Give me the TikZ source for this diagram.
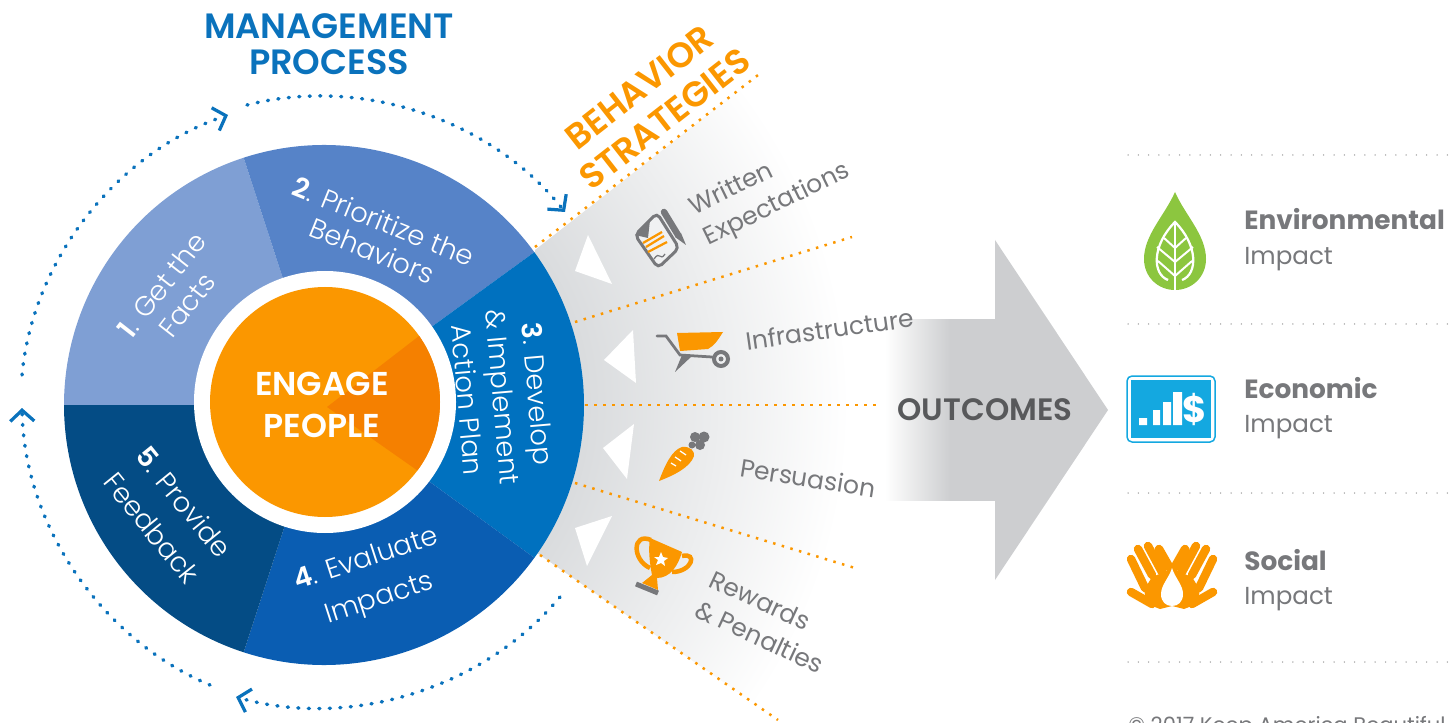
\documentclass[tikz,border=0pt]{standalone}
\usepackage{fontspec}
\setmainfont{Poppins}
\newfontfamily\lightfam{Poppins Light}
\newfontfamily\semifam{Poppins SemiBold}
\usetikzlibrary{arrows.meta}
\definecolor{factsblue}{HTML}{7F9FD4}
\definecolor{prioblue}{HTML}{5683C8}
\definecolor{planblue}{HTML}{0071BF}
\definecolor{evalblue}{HTML}{0A5DB2}
\definecolor{feedblue}{HTML}{044C85}
\definecolor{flowblue}{HTML}{0A72BC}
\definecolor{engorange}{HTML}{FB9700}
\definecolor{wedgeorange}{HTML}{F58000}
\definecolor{fangrey}{HTML}{DADCDE}
\definecolor{arrowgrey}{HTML}{CDCED0}
\definecolor{labelgrey}{HTML}{77787B}
\definecolor{darkgrey}{HTML}{58595B}
\definecolor{leafgreen}{HTML}{8CC63F}
\definecolor{moneyblue}{HTML}{14A8E0}
\pgfdeclareradialshading{fanshade}{\pgfpointorigin}{color(0bp)=(fangrey); color(12.5bp)=(fangrey); color(25bp)=(white); color(50bp)=(white)}
\pgfdeclarehorizontalshading{shaftshade}{100bp}{color(0bp)=(white); color(25bp)=(white); color(54.5bp)=(arrowgrey); color(75bp)=(arrowgrey); color(100bp)=(arrowgrey)}
\tikzset{
  wheeltext/.style={text=white,align=center,inner sep=0pt,font=\fontsize{15.6}{#1}\lightfam},
  fantext/.style={text=labelgrey,align=left,inner sep=0pt,font=\fontsize{14.2}{19}\selectfont},
  headtext/.style={font=\fontsize{20}{#1}\semifam,align=center,inner sep=0pt},
  impacttext/.style={text=labelgrey,anchor=base west,inner sep=0pt,font=\fontsize{14}{14}\selectfont},
  impacthead/.style={impacttext,font=\fontsize{15}{15}\selectfont\bfseries},
  ray/.style={draw=engorange,line width=.5mm,dash pattern=on .5mm off 1.3mm},
  flow/.style={draw=flowblue,line width=.7mm,line cap=round,dash pattern=on .2mm off 1.9mm,
    ->,>={Straight Barb[length=2.2mm,width=4.8mm,line width=.65mm]}},
  rule/.style={draw=gray!80,line width=.3mm,line cap=round,dash pattern=on 0mm off 2.06mm},
  notch/.style={fill=white,draw=none}
}
\begin{document}
\begin{tikzpicture}[x=.2mm,y=-.2mm]
\useasboundingbox (0,0) rectangle (1451,723);

\coordinate (wheelc) at (324,405);
\coordinate (ray1a) at (535,247);
\coordinate (ray1b) at (762,72);
\coordinate (ray2a) at (575,322);
\coordinate (ray2b) at (852,237);
\coordinate (ray3a) at (585,405);
\coordinate (ray3b) at (880,405);
\coordinate (ray4a) at (575,483);
\coordinate (ray4b) at (855,568);
\coordinate (ray5a) at (540,555);
\coordinate (ray5b) at (778,720);
\coordinate (flow1a) at (22,375);
\coordinate (flow1b) at (228,115);
\coordinate (flow2a) at (247,105);
\coordinate (flow2b) at (565,212);
\coordinate (flow3a) at (560,597);
\coordinate (flow3b) at (236,697);
\coordinate (flow4a) at (210,685);
\coordinate (flow4b) at (22,408);

\begin{scope}
\clip (535,250) -- (ray1b) -- (1000,72) -- (1000,720) -- (ray5b) -- (537,553) -- cycle;
\shade[shading=fanshade] (wheelc) circle (525);
\end{scope}
\fill[notch] (588,235) -- (575,271) -- (612,284) -- cycle;
\fill[notch] (633,330) -- (604,360) -- (636,383) -- cycle;
\fill[notch] (634,424) -- (603,448) -- (627,479) -- cycle;
\fill[notch] (612,516) -- (575,528) -- (587,566) -- cycle;

\shade[shading=shaftshade] (885,320) rectangle (996,500);
\fill[arrowgrey] (995,240) -- (1108,410) -- (995,580) -- cycle;

\foreach \a/\c in {-180/factsblue,-108/prioblue,-36/planblue,36/evalblue,108/feedblue}
  \fill[\c] (wheelc) -- ++(\a:260) arc[start angle=\a,delta angle=72,radius=260] -- cycle;
\fill[white] (325,402) circle (131);
\fill[engorange] (325,402) circle (115);
\begin{scope}
\clip (325,402) circle (115);
\fill[wedgeorange] (327,407) -- (458,306) -- (458,499) -- cycle;
\end{scope}

\draw[ray] (ray1a) -- (ray1b);
\draw[ray] (ray2a) -- (ray2b);
\draw[ray] (ray3a) -- (ray3b);
\draw[ray] (ray4a) -- (ray4b);
\draw[ray] (ray5a) -- (ray5b);

\draw[flow] (flow1a) to[bend left=33,looseness=.9] (flow1b);
\draw[flow] (flow2a) to[bend left=33,looseness=.9] (flow2b);
\draw[flow] (flow3a) to[bend left=33,looseness=.9] (flow3b);
\draw[flow] (flow4a) to[bend left=33,looseness=.9] (flow4b);

\node[headtext=20.5,text=flowblue] (mgmt) at (329,44) {MANAGEMENT\\PROCESS};
\node[headtext=23,text=engorange,rotate=38] (strat) at (652,103) {BEHAVIOR\\STRATEGIES};
\node[headtext=24,text=white,font=\fontsize{18.8}{24}\semifam] (engage) at (322,405) {ENGAGE\\PEOPLE};
\node[headtext=18,text=darkgrey,font=\fontsize{17.6}{18}\semifam] (outcomes) at (985,410) {OUTCOMES};

\node[wheeltext=18,rotate=52] (facts) at (174,295) {\textbf{1}. Get the\\Facts};
\node[wheeltext=18,rotate=-22] (prio) at (378,236) {\textbf{2}. Prioritize the\\Behaviors};
\node[wheeltext=20,rotate=-85] (plan) at (503,397) {\textbf{3}. Develop\\\& Implement\\Action Plan};
\node[wheeltext=23.5,rotate=18] (eval) at (373,580) {\textbf{4}. Evaluate\\Impacts};
\node[wheeltext=23.5,rotate=-51] (feed) at (168,515) {\textbf{5}. Provide\\Feedback};

\node[fantext,rotate=26] (written) at (770,190) {Written\\Expectations};
\node[fantext,rotate=8] (infra) at (830,329) {Infrastructure};
\node[fantext,rotate=-9] (persu) at (808,478) {Persuasion};
\node[fantext,rotate=-25] (reward) at (767,622) {Rewards\\\& Penalties};

\draw[labelgrey,line width=.6mm,rounded corners=1mm,fill=fangrey!40] (635,235) -- (657,213) -- (679,248) -- (658,268) -- cycle;
\fill[labelgrey] (635,235) -- (650,220) -- (648,238) -- cycle;
\draw[engorange,line width=.45mm] (643,243) -- (662,232) (646,247) -- (664,236) (648,252) -- (667,242);
\draw[labelgrey,line width=.25mm] (654,259) .. controls (660,250) and (660,262) .. (665,254);
\draw[labelgrey,line width=1.3mm,line cap=round] (664,212) -- (678,235);
\fill[labelgrey] (675,237) -- (681,233) -- (686,245) -- cycle;

\fill[engorange] (677,333) -- (723,332) .. controls (718,340) and (714,346) .. (708,349) -- (680,351) -- cycle;
\draw[labelgrey,line width=.55mm,line cap=round] (657,336) -- (666,336) -- (680,355) -- (712,357);
\fill[labelgrey] (682,355) -- (675,372) -- (692,356) -- cycle;
\draw[labelgrey,line width=.8mm] (721,359) circle (7);
\fill[labelgrey] (721,359) circle (2.5);

\fill[engorange] (659,481) .. controls (665,465) and (672,450) .. (682,447) .. controls (690,446) and (695,451) .. (694,456) .. controls (690,468) and (672,476) .. (659,481) -- cycle;
\draw[white,line width=.25mm] (671,463) -- (676,466) (675,457) -- (681,461) (680,451) -- (686,455);
\fill[labelgrey] (695,437) circle (5) (704,437) circle (5.5) (700,445) circle (5) (692,445) circle (3.5);

\fill[engorange] (650,538) -- (682,552) .. controls (678,566) and (670,578) .. (657,578) -- (658,590) -- (642,583) -- (652,575) .. controls (650,565) and (648,550) .. (650,538) -- cycle;
\draw[engorange,line width=.9mm] (651,540) .. controls (632,532) and (632,560) .. (650,568);
\draw[engorange,line width=.9mm] (682,556) .. controls (698,552) and (692,572) .. (672,572);
\fill[white] (661,552) -- (663,557) -- (668,558) -- (664,561) -- (665,566) -- (661,563) -- (656,565) -- (658,560) -- (654,557) -- (659,557) -- cycle;
\draw[labelgrey,line width=1mm] (636,584) -- (658,593);

\foreach \y in {155,324,493,662}
  \draw[rule] (1128,\y) -- (1451,\y);

\fill[leafgreen] (1175,192) .. controls (1165,215) and (1144,235) .. (1144,259) .. controls (1144,277) and (1158,290) .. (1175,290) .. controls (1192,290) and (1206,277) .. (1206,259) .. controls (1206,235) and (1185,215) .. (1175,192) -- cycle;
\draw[white,line width=.45mm] (1175,222) -- (1175,290);
\draw[white,line width=.45mm] (1168,280) .. controls (1152,274) and (1152,245) .. (1175,222) .. controls (1198,245) and (1198,274) .. (1182,280);
\draw[white,line width=.4mm] (1175,248) -- (1164,238) (1175,248) -- (1186,238) (1175,262) -- (1157,247) (1175,262) -- (1193,247) (1175,276) -- (1158,261) (1175,276) -- (1192,261);

\draw[moneyblue,line width=.3mm,rounded corners=1mm] (1127,376) rectangle (1215,442);
\fill[moneyblue] (1131,380) rectangle (1211,438);
\fill[white] (1139,418) rectangle (1147,425) (1153,410) rectangle (1160,425) (1163,402) rectangle (1171,425) (1173,392) rectangle (1182,425);
\node[text=white,inner sep=0pt,font=\fontsize{21}{21}\selectfont\bfseries] (dollar) at (1195,409) {\$};

\foreach \s in {1,-1}{
\begin{scope}[shift={(1172,0)},xscale=\s]
\fill[engorange] (-28,590) -- (-20,577) -- (-10,573) -- (0,568) -- (0,606) -- (-12,609) -- (-25,604) -- cycle;
\draw[engorange,line width=1.7mm,line cap=round] (-41,559) -- (-27,588) (-34,549) -- (-20,575) (-24,546) -- (-10,572) (-13,549) -- (-1,570) (-41,592) -- (-20,604);
\end{scope}
}
\fill[white] (1172,568) .. controls (1169,578) and (1161,585) .. (1161,594) .. controls (1161,602) and (1166,606) .. (1172,606) .. controls (1178,606) and (1183,602) .. (1183,594) .. controls (1183,585) and (1175,578) .. (1172,568) -- cycle;

\node[impacthead] (envhead) at (1244,230) {Environmental};
\node[impacttext] (envsub) at (1244,265) {Impact};
\node[impacthead] (ecohead) at (1244,398) {Economic};
\node[impacttext] (ecosub) at (1244,432) {Impact};
\node[impacthead] (sochead) at (1244,570) {Social};
\node[impacttext] (socsub) at (1244,604) {Impact};
\node[impacttext,font=\fontsize{12}{12}\selectfont] (copy) at (1128,732) {© 2017 Keep America Beautiful};
\end{tikzpicture}
\end{document}
